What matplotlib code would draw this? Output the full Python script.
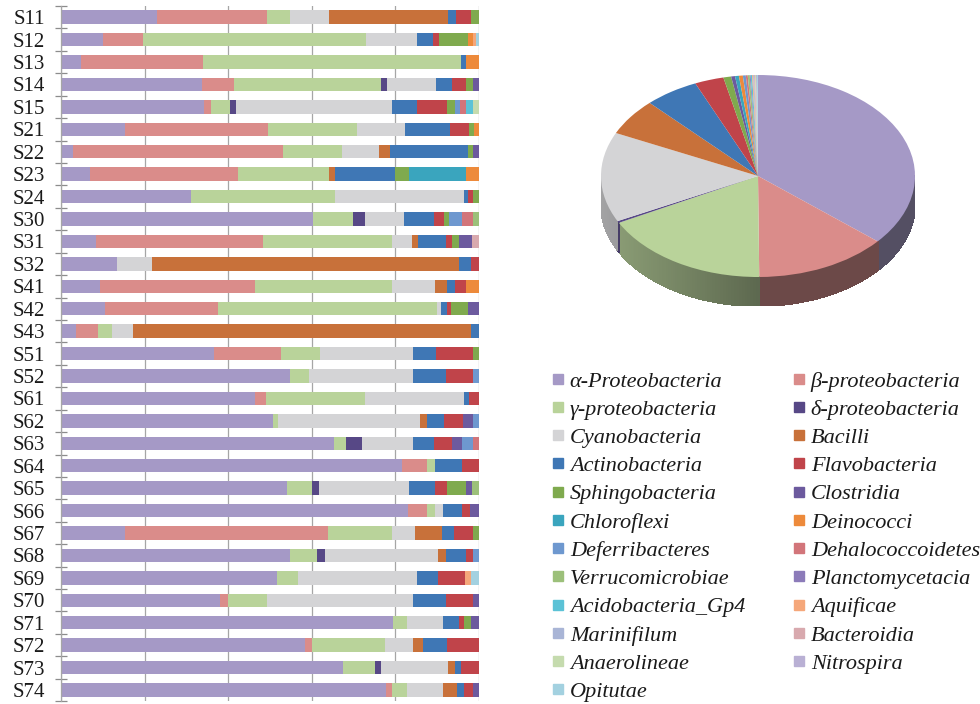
import numpy as np
import matplotlib
matplotlib.use("Agg")
import matplotlib.pyplot as plt
from matplotlib.lines import Line2D
from matplotlib.collections import PolyCollection
from matplotlib.colors import to_rgb

# ---------------------------------------------------------------- data
samples = ["S11", "S12", "S13", "S14", "S15", "S21", "S22", "S23", "S24",
           "S30", "S31", "S32", "S41", "S42", "S43", "S51", "S52", "S61",
           "S62", "S63", "S64", "S65", "S66", "S67", "S68", "S69", "S70",
           "S71", "S72", "S73", "S74"]

classes = ["α-Proteobacteria", "β-proteobacteria", "γ-proteobacteria",
           "δ-proteobacteria", "Cyanobacteria", "Bacilli", "Actinobacteria",
           "Flavobacteria", "Sphingobacteria", "Clostridia", "Chloroflexi",
           "Deinococci", "Deferribacteres", "Dehalococcoidetes",
           "Verrucomicrobiae", "Planctomycetacia", "Acidobacteria_Gp4",
           "Aquificae", "Marinifilum", "Bacteroidia", "Anaerolineae",
           "Nitrospira", "Opitutae"]

class_colors = ["#a599c6", "#da8c8a", "#b9d39a", "#574886", "#d4d4d6",
                "#c8713a", "#3f77b5", "#c0444a", "#7faa4e", "#6c5a9e",
                "#3aa5be", "#ed8a3b", "#6e98cf", "#d2757a", "#9cc07a",
                "#8c7bb9", "#5bc2d6", "#f5a77a", "#a9b5d6", "#d8a9ae",
                "#c5dbae", "#b9b0d4", "#a3d1e0"]

# relative abundance (%) per sample, one list per class (order = samples)
alpha_proteo = [22.9, 10.1, 4.8, 33.8, 34.2, 15.3, 2.8, 6.9, 31.0, 60.2, 8.3,
                13.5, 9.3, 10.5, 3.6, 36.6, 54.8, 46.4, 50.8, 65.4, 81.5, 54.0,
                82.9, 15.3, 54.8, 51.6, 38.0, 79.5, 58.4, 67.5, 77.8]
beta_proteo = [26.3, 9.4, 29.1, 7.7, 1.7, 34.3, 50.4, 35.4, 0, 0, 40.1, 0,
               37.0, 27.0, 5.2, 16.0, 0, 2.6, 0, 0, 6.0, 0, 4.6, 48.5, 0, 0,
               1.9, 0, 1.7, 0, 1.5]
gamma_proteo = [5.6, 53.4, 61.8, 35.1, 4.5, 21.1, 14.1, 21.7, 34.6, 9.6, 30.7,
                0, 32.8, 52.4, 3.3, 9.4, 4.6, 23.7, 1.2, 2.7, 2.0, 6.1, 2.0,
                15.3, 6.4, 5.0, 9.5, 3.2, 17.4, 7.5, 3.4]
delta_proteo = [0, 0, 0, 1.3, 1.4, 0, 0, 0, 0, 2.9, 0, 0, 0, 0, 0, 0, 0, 0,
                0, 3.8, 0, 1.6, 0, 0, 2.0, 0, 0, 0, 0, 1.6, 0]
cyanobacteria = [9.3, 12.2, 0, 11.7, 37.3, 11.6, 8.8, 0, 30.7, 9.4, 4.8, 8.2,
                 10.4, 0.9, 5.2, 22.3, 24.9, 23.8, 33.9, 12.2, 0, 21.6, 2.0,
                 5.6, 27.1, 28.5, 34.7, 8.8, 6.6, 16.1, 8.8]
bacilli = [28.4, 0, 0, 0, 0, 0, 2.6, 1.6, 0, 0, 1.6, 73.6, 2.8, 0, 80.9, 0, 0,
           0, 1.6, 0, 0, 0, 0, 6.4, 1.7, 0, 0, 0, 2.6, 1.6, 3.2]
actinobacteria = [1.9, 4.0, 1.3, 3.9, 6.1, 10.8, 18.6, 14.3, 1.1, 7.2, 6.5,
                  2.9, 2.0, 1.5, 1.8, 5.3, 7.8, 1.2, 4.1, 5.2, 6.4, 6.2, 4.4,
                  2.8, 4.9, 5.2, 8.0, 3.6, 5.6, 1.3, 1.6]
flavobacteria = [3.7, 1.4, 0, 3.5, 7.2, 4.6, 0, 0, 1.2, 2.4, 1.6, 1.8, 2.7,
                 0.9, 0, 9.0, 6.4, 2.3, 4.5, 4.2, 4.1, 2.8, 1.9, 4.6, 1.6, 6.4,
                 6.4, 1.3, 7.7, 4.4, 2.2]
sphingobacteria = [1.9, 6.9, 0, 1.6, 1.9, 1.1, 1.3, 3.4, 1.4, 1.2, 1.6, 0, 0,
                   4.2, 0, 1.4, 0, 0, 0, 0, 0, 4.7, 0, 1.5, 0, 0, 0, 1.8, 0,
                   0, 0]
clostridia = [0, 0, 0, 1.4, 0, 0, 1.4, 0, 0, 0, 3.2, 0, 0, 2.6, 0, 0, 0, 0,
              2.4, 2.4, 0, 1.4, 2.2, 0, 0, 0, 1.5, 1.8, 0, 0, 1.5]
chloroflexi = [0, 0, 0, 0, 0, 0, 0, 13.5, 0, 0, 0, 0, 0, 0, 0, 0, 0, 0, 0, 0,
               0, 0, 0, 0, 0, 0, 0, 0, 0, 0, 0]
deinococci = [0, 1.2, 3.0, 0, 0, 1.2, 0, 3.2, 0, 0, 0, 0, 3.0, 0, 0, 0, 0, 0,
              0, 0, 0, 0, 0, 0, 0, 0, 0, 0, 0, 0, 0]
deferribacteres = [0, 0, 0, 0, 1.2, 0, 0, 0, 0, 3.1, 0, 0, 0, 0, 0, 0, 1.5,
                   0, 1.5, 2.6, 0, 0, 0, 0, 1.5, 0, 0, 0, 0, 0, 0]
dehalococcoidetes = [0, 0, 0, 0, 1.5, 0, 0, 0, 0, 2.5, 0, 0, 0, 0, 0, 0, 0, 0,
                     0, 1.5, 0, 0, 0, 0, 0, 0, 0, 0, 0, 0, 0]
verrucomicrobiae = [0, 0, 0, 0, 0, 0, 0, 0, 0, 1.5, 0, 0, 0, 0, 0, 0, 0, 0,
                    0, 0, 0, 1.6, 0, 0, 0, 0, 0, 0, 0, 0, 0]
planctomycetacia = [0] * 31
acidobacteria_gp4 = [0, 0, 0, 0, 1.6, 0, 0, 0, 0, 0, 0, 0, 0, 0, 0, 0, 0, 0,
                     0, 0, 0, 0, 0, 0, 0, 0, 0, 0, 0, 0, 0]
aquificae = [0, 0.7, 0, 0, 0, 0, 0, 0, 0, 0, 0, 0, 0, 0, 0, 0, 0, 0, 0, 0, 0,
             0, 0, 0, 0, 1.3, 0, 0, 0, 0, 0]
marinifilum = [0] * 31
bacteroidia = [0, 0, 0, 0, 0, 0, 0, 0, 0, 0, 1.6, 0, 0, 0, 0, 0, 0, 0, 0, 0,
               0, 0, 0, 0, 0, 0, 0, 0, 0, 0, 0]
anaerolineae = [0, 0, 0, 0, 1.4, 0, 0, 0, 0, 0, 0, 0, 0, 0, 0, 0, 0, 0, 0, 0,
                0, 0, 0, 0, 0, 0, 0, 0, 0, 0, 0]
nitrospira = [0] * 31
opitutae = [0, 0.7, 0, 0, 0, 0, 0, 0, 0, 0, 0, 0, 0, 0, 0, 0, 0, 0, 0, 0, 0,
            0, 0, 0, 0, 2.0, 0, 0, 0, 0, 0]

composition = [alpha_proteo, beta_proteo, gamma_proteo, delta_proteo,
               cyanobacteria, bacilli, actinobacteria, flavobacteria,
               sphingobacteria, clostridia, chloroflexi, deinococci,
               deferribacteres, dehalococcoidetes, verrucomicrobiae,
               planctomycetacia, acidobacteria_gp4, aquificae, marinifilum,
               bacteroidia, anaerolineae, nitrospira, opitutae]

# overall share (%) of each class across all samples
overall_share = [36.3, 13.7, 17.5, 0.3, 14.4, 5.9, 5.6, 3.0, 0.8, 0.4, 0.4,
                 0.4, 0.3, 0.2, 0.2, 0.1, 0.15, 0.1, 0.1, 0.1, 0.1, 0.1, 0.1]

# ---------------------------------------------------------------- figure
W, H = 980, 704
fig = plt.figure(figsize=(W / 100, H / 100), dpi=100)
fig.patch.set_facecolor("white")


def px_axes(x0, y0, x1, y1):
    """Axes from pixel box (top-left origin)."""
    return fig.add_axes([x0 / W, (H - y1) / H, (x1 - x0) / W, (y1 - y0) / H])


# ---------------------------------------------------------------- stacked bars
ax = px_axes(61, 6, 479, 701.2)
ypos = np.arange(len(samples))
left = np.zeros(len(samples))
for vals, col in zip(composition, class_colors):
    vals = np.asarray(vals, dtype=float)
    ax.barh(ypos, vals, left=left, height=0.6, color=col, linewidth=0,
            zorder=2)
    left += vals

ax.set_xlim(0, 100)
ax.set_ylim(len(samples) - 0.5, -0.5)
ax.set_xticks(np.arange(0, 101, 20))
ax.set_xticklabels([])
ax.tick_params(axis="x", length=0)
ax.grid(axis="x", color="#a6a6a6", linewidth=0.9, zorder=0)
ax.set_axisbelow(True)

ax.set_yticks(ypos)
ax.set_yticklabels(samples, fontfamily="Liberation Serif", fontsize=15,
                   color="#1a1a1a")
ax.tick_params(axis="y", which="major", length=0, pad=11.5)
ax.set_yticks(np.arange(-0.5, len(samples) + 0.5, 1), minor=True)
ax.tick_params(axis="y", which="minor", direction="inout", length=9,
               width=0.9, color="#8c8c8c")
for side in ("top", "right", "bottom"):
    ax.spines[side].set_visible(False)
ax.spines["left"].set_color("#a6a6a6")
ax.spines["left"].set_linewidth(0.9)

# ---------------------------------------------------------------- 3-D style pie
depth = 0.287
pax = px_axes(601, 75, 915, 306)
wedges, _ = pax.pie(overall_share, colors=class_colors, startangle=90,
                    counterclock=False, radius=1.0, center=(0, 0),
                    wedgeprops=dict(linewidth=0))
for w in wedges:
    w.set_zorder(3)

# side wall of the disc (visible lower half), shaded darker toward the front
total = float(np.sum(overall_share))
bounds = 90 - 360 * np.concatenate([[0], np.cumsum(overall_share)]) / total
polys, fcols = [], []
for i, col in enumerate(class_colors):
    hi, lo = bounds[i], bounds[i + 1]
    a0, a1 = max(lo, -180.0), min(hi, 0.0)
    if a1 <= a0:
        continue
    steps = np.linspace(a0, a1, max(2, int((a1 - a0) / 1.0) + 2))
    base = np.array(to_rgb(col))
    for s0, s1 in zip(steps[:-1], steps[1:]):
        t0, t1 = np.radians(s0), np.radians(s1)
        polys.append([(np.cos(t0), np.sin(t0)), (np.cos(t1), np.sin(t1)),
                      (np.cos(t1), np.sin(t1) - depth),
                      (np.cos(t0), np.sin(t0) - depth)])
        mid = np.radians(0.5 * (s0 + s1))
        shade = 0.45 + 0.27 * max(0.0, -np.cos(mid))
        fcols.append(np.clip(base * shade + 0.04, 0, 1))
pax.add_collection(PolyCollection(polys, facecolors=fcols, edgecolors=fcols,
                                  linewidths=0.6, antialiased=False,
                                  zorder=2))
pax.set_aspect("auto")
pax.set_xlim(-1, 1)
pax.set_ylim(-1 - depth, 1)
pax.axis("off")

# ---------------------------------------------------------------- legend
handles = [Line2D([], [], linestyle="none", marker="s", markersize=6.5,
                  markerfacecolor=c, markeredgecolor=c) for c in class_colors]
legend_font = dict(family="Liberation Serif", style="italic", size=16)
for col_idx, x0 in ((0, 552), (1, 793)):
    hs = handles[col_idx::2]
    ls = classes[col_idx::2]
    leg = fig.legend(hs, ls, loc="upper left",
                     bbox_to_anchor=(x0 / W, (H - 371) / H),
                     frameon=False, prop=legend_font, handlelength=0.5,
                     handletextpad=0.3, labelspacing=0.345, borderpad=0,
                     borderaxespad=0)
    for t in leg.get_texts():
        t.set_color("#1a1a1a")

fig.savefig("out.png", dpi=100, facecolor="white")
